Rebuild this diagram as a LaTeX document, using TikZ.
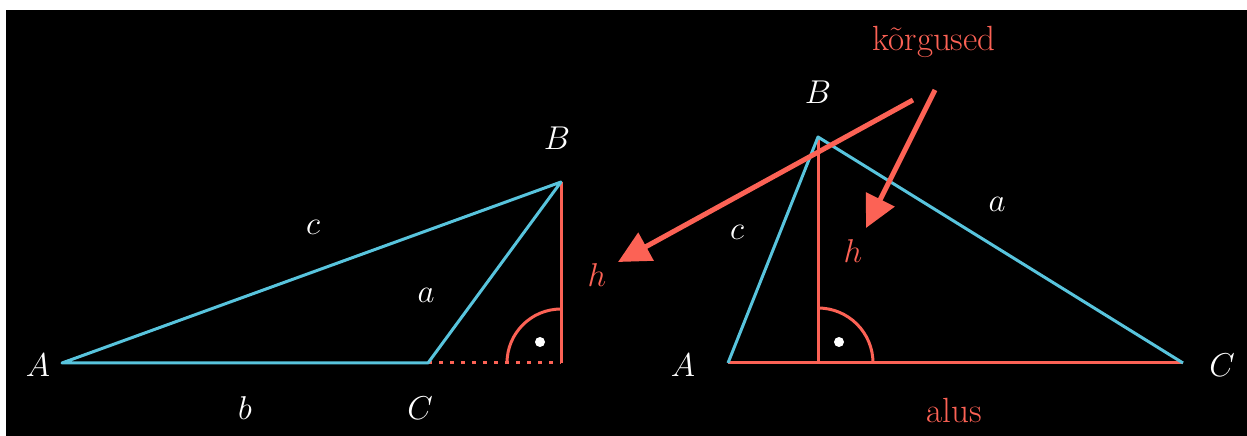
\RequirePackage{fix-cm}
\documentclass[tikz,border=0pt]{standalone}
\usepackage{fontspec}
\usetikzlibrary{arrows.meta}
\definecolor{mblue}{HTML}{58C4DD}
\definecolor{mred}{HTML}{FC6255}
\tikzset{
  lbl/.style={text=white, font=\fontsize{33}{38}\selectfont, inner sep=0pt},
  rlbl/.style={text=mred, font=\fontsize{33}{38}\selectfont, inner sep=0pt},
  rtxt/.style={text=mred, font=\fontsize{35}{40}\selectfont, inner sep=0pt},
  bside/.style={draw=mblue, line width=3pt, line join=round},
  rside/.style={draw=mred, line width=3pt},
  rdot/.style={draw=mred, line width=3pt, dash pattern=on 4pt off 7pt},
  callout/.style={draw=mred, line width=5pt, -{Triangle[length=32pt,width=31pt]}},
}
\begin{document}
\begin{tikzpicture}[x=1pt,y=1pt]
\useasboundingbox (0,0) rectangle (1247,436);
\fill[black] (6,0) rectangle (1247,426);
% left triangle
\coordinate (A1) at (62,73);
\coordinate (C1) at (428,73);
\coordinate (B1) at (561,254);
\coordinate (F1) at (561,73);
\draw[rdot] (C1) -- (F1);
\draw[rside] (B1) -- (F1);
\draw[rside] ([xshift=-54pt]F1) arc[start angle=180,end angle=90,radius=54pt];
\fill[white] (540,94) circle (5pt);
\draw[bside] (A1) -- (C1) -- (B1) -- cycle;
\node[lbl] (lA1) at (38,71) {$A$};
\node[lbl] (lB1) at (557,298) {$B$};
\node[lbl] (lC1) at (420,28) {$C$};
\node[lbl] (lc1) at (313,209) {$c$};
\node[lbl] (la1) at (426,141) {$a$};
\node[lbl] (lb1) at (245,28) {$b$};
\node[rlbl] (lh1) at (597,161) {$h$};
% right triangle
\coordinate (A2) at (728,73);
\coordinate (B2) at (818,299);
\coordinate (C2) at (1183,73);
\coordinate (F2) at (818,73);
\draw[rside] (A2) -- (C2);
\draw[rside] (B2) -- (F2);
\draw[rside] ([xshift=55pt]F2) arc[start angle=0,end angle=90,radius=55pt];
\fill[white] (839,94) circle (5pt);
\draw[bside] (A2) -- (B2) -- (C2);
\node[lbl] (lA2) at (683,71) {$A$};
\node[lbl] (lB2) at (818,344) {$B$};
\node[lbl] (lC2) at (1222,71) {$C$};
\node[lbl] (lc2) at (737,204) {$c$};
\node[lbl] (la2) at (997,232) {$a$};
\node[rlbl] (lh2) at (853,185) {$h$};
\node[rtxt] (alus) at (954,26) {alus};
\node[rtxt] (korg) at (934,394) {kõrgused};
% callout arrows
\coordinate (s1) at (913,336);
\coordinate (t1) at (618,174);
\coordinate (s2) at (935,346);
\coordinate (t2) at (866,208);
\draw[callout] (s1) -- (t1);
\draw[callout] (s2) -- (t2);
\end{tikzpicture}
\end{document}
